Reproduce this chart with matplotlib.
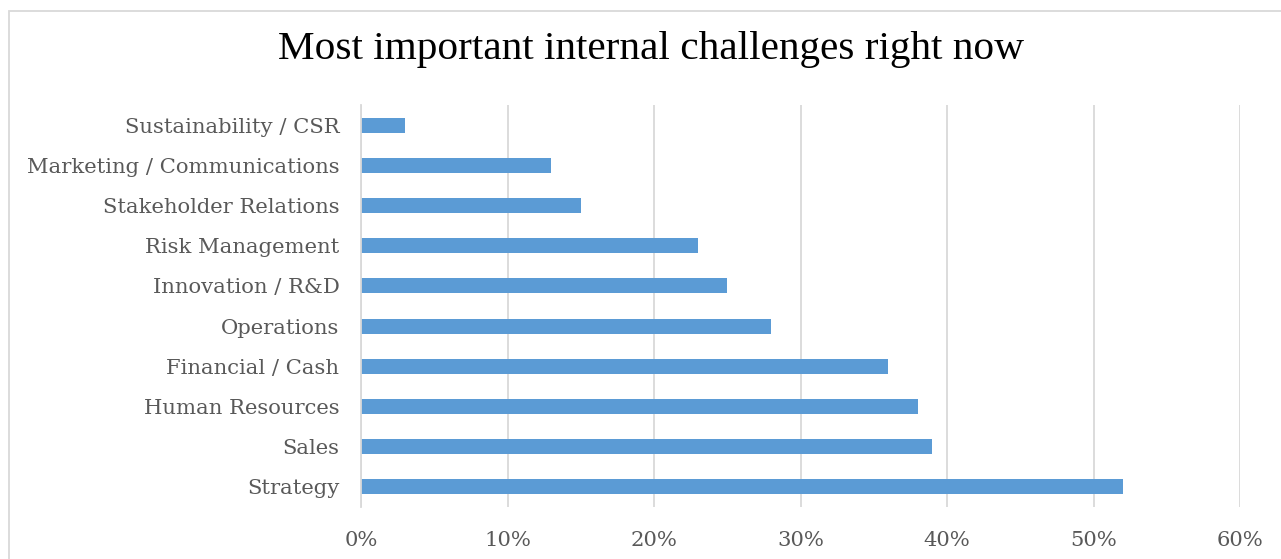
import matplotlib
matplotlib.use("Agg")
from matplotlib import pyplot as plt
from matplotlib.patches import Rectangle
from matplotlib.ticker import FuncFormatter

# survey results, bottom bar first
categories = ["Strategy", "Sales", "Human Resources", "Financial / Cash", "Operations",
              "Innovation / R&D", "Risk Management", "Stakeholder Relations",
              "Marketing / Communications", "Sustainability / CSR"]
shares = [0.52, 0.39, 0.38, 0.36, 0.28, 0.25, 0.23, 0.15, 0.13, 0.03]
ticks = [0, 0.1, 0.2, 0.3, 0.4, 0.5, 0.6]

fig = plt.figure(figsize=(12.81, 5.59), dpi=100)
W, H = 1281, 559

# chart frame running off the right and bottom edges
fig.patches.append(Rectangle((8.5 / W, -0.1), 1.2, (H - 10.5) / H + 0.1, transform=fig.transFigure,
                             fill=False, edgecolor="#D9D9D9", linewidth=1.3))

ax = fig.add_axes([361 / W, 1 - 507 / H, (1240 - 361) / W, (507 - 105) / H])
ax.barh(range(len(categories)), shares, height=0.37, color="#5B9BD5")
ax.set_ylim(-0.5, len(categories) - 0.5)
ax.set_xlim(0, 0.6)
ax.set_xticks(ticks)
ax.xaxis.set_major_formatter(FuncFormatter(lambda v, p: f"{v * 100:.0f}%"))
ax.set_yticks(range(len(categories)))
ax.set_yticklabels(categories)
ax.grid(axis="x", color="#D9D9D9", linewidth=1.3)
ax.set_axisbelow(True)
for s in ["top", "right", "bottom"]:
    ax.spines[s].set_visible(False)
ax.spines["left"].set_color("#D9D9D9")
ax.spines["left"].set_linewidth(1.3)
ax.tick_params(length=0, labelcolor="#595959", labelsize=15.2)
ax.tick_params(axis="y", pad=15.5)
ax.tick_params(axis="x", pad=17)
for lbl in ax.get_xticklabels() + ax.get_yticklabels():
    lbl.set_fontfamily("DejaVu Serif")

fig.text(651 / W, 1 - 50 / H, "Most important internal challenges right now",
         ha="center", va="center", fontsize=29.7, family="Liberation Serif", color="black")

fig.savefig("out.png", dpi=100)
